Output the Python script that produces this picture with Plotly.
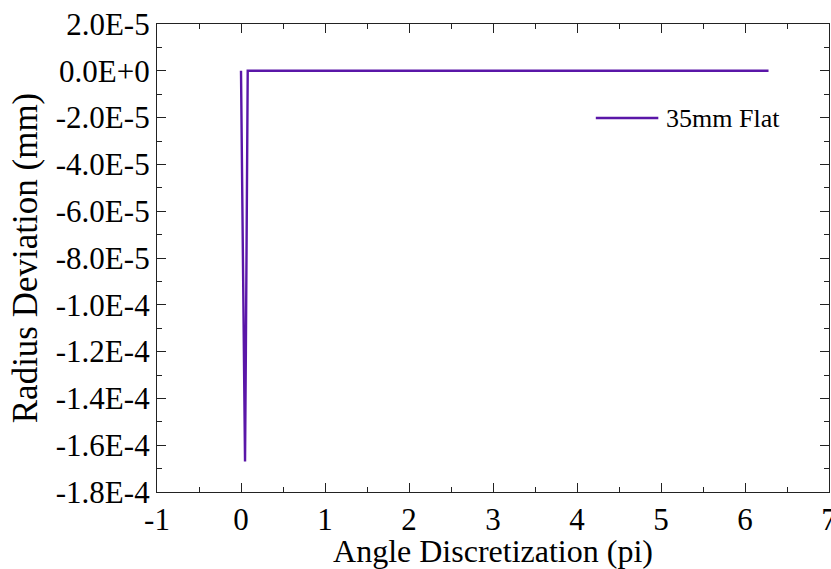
import plotly.graph_objects as go

# Radius deviation profile of the 35mm flat sample
angle = [0.0, 0.01, 0.02, 0.035, 0.048, 0.058, 0.066, 0.074, 0.08, 6.28]
deviation = [0.0, -3.0e-5, -7.5e-5, -1.30e-4, -1.67e-4, -1.20e-4, -6.0e-5, -1.0e-5, 0.0, 0.0]

series_name = "35mm Flat"
line_color = "#5a16a8"

y_ticks = [2.0e-5, 0.0, -2.0e-5, -4.0e-5, -6.0e-5, -8.0e-5, -1.0e-4,
           -1.2e-4, -1.4e-4, -1.6e-4, -1.8e-4]
y_tick_labels = ["2.0E-5", "0.0E+0", "-2.0E-5", "-4.0E-5", "-6.0E-5", "-8.0E-5",
                 "-1.0E-4", "-1.2E-4", "-1.4E-4", "-1.6E-4", "-1.8E-4"]
x_ticks = [-1, 0, 1, 2, 3, 4, 5, 6, 7]
x_tick_labels = ["-1", "0", "1", "2", "3", "4", "5", "6", "7"]

font_family = "Liberation Serif, Times New Roman, serif"

fig = go.Figure()
fig.add_trace(go.Scatter(
    x=angle, y=deviation, mode="lines", name=series_name,
    line=dict(color=line_color, width=2.4), showlegend=False,
))

axis_common = dict(
    showline=True, linecolor="#222222", linewidth=1.3, mirror="allticks",
    ticks="inside", ticklen=9, tickwidth=1.3, tickcolor="#222222",
    showgrid=False, zeroline=False, ticklabeloverflow="allow", automargin=False,
    tickfont=dict(family=font_family, size=31, color="black"),
)

fig.update_xaxes(
    range=[-1, 7], tickvals=x_ticks, ticktext=x_tick_labels,
    minor=dict(dtick=0.5, ticks="inside", ticklen=5, tickwidth=1.2, tickcolor="#222222"),
    title=dict(text="Angle Discretization (pi)", standoff=5,
               font=dict(family=font_family, size=32, color="black")),
    **axis_common,
)
fig.update_yaxes(
    range=[-1.8e-4, 2.0e-5], tickvals=y_ticks, ticktext=y_tick_labels,
    minor=dict(dtick=1.0e-5, ticks="inside", ticklen=5, tickwidth=1.2, tickcolor="#222222"),
    title=dict(text="Radius Deviation (mm)", standoff=7,
               font=dict(family=font_family, size=35, color="black")),
    **axis_common,
)

# Legend entry drawn inside the plot area
fig.add_shape(type="line", xref="paper", yref="paper",
              x0=0.653, x1=0.746, y0=0.799, y1=0.799,
              line=dict(color=line_color, width=2.5))
fig.add_annotation(xref="paper", yref="paper", x=0.754, y=0.799,
                   xanchor="left", yanchor="middle", showarrow=False,
                   text=series_name,
                   font=dict(family=font_family, size=26, color="black"))

fig.update_layout(
    width=831, height=569,
    margin=dict(l=157, r=2, t=24, b=77),
    paper_bgcolor="white", plot_bgcolor="white",
)

fig.write_html("out.html")
